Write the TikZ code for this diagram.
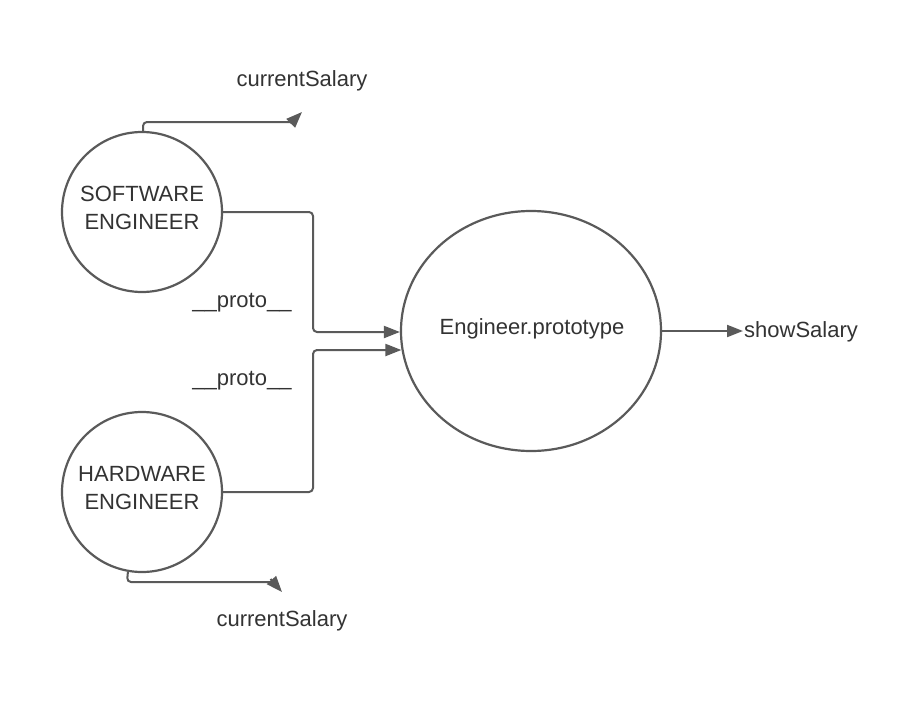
\documentclass[tikz,border=0pt]{standalone}
\usepackage{fontspec}
\setmainfont{Liberation Sans}
\usetikzlibrary{arrows.meta,shapes.geometric,calc}
\definecolor{linec}{HTML}{5A5A5A}
\definecolor{textc}{HTML}{333333}
\begin{document}
\begin{tikzpicture}[x=1pt,y=-1pt,
  every node/.style={text=textc,font=\fontsize{22}{28}\selectfont},
  circ/.style={circle,draw=linec,line width=2.2pt,minimum size=160pt,inner sep=0pt},
  ell/.style={ellipse,draw=linec,line width=2.2pt,minimum width=260pt,minimum height=240pt,inner sep=0pt},
  conn/.style={draw=linec,line width=2pt,rounded corners=4pt},
  arr/.style={draw=linec,line width=2pt,-{Triangle[length=16pt,width=12pt]},rounded corners=4pt},
  lbl/.style={inner sep=1pt}]
\useasboundingbox (0,0) rectangle (924,704);
\fill[white] (0,0) rectangle (924,704);
\node[circ] (sw) at (142,212) {};
\node[align=center] (swl) at (142,208) {SOFTWARE\\ENGINEER};
\node[circ] (hw) at (142,492) {};
\node[align=center] (hwl) at (142,488) {HARDWARE\\ENGINEER};
\node[ell] (eng) at (531,331) {};
\node at (532,329) (englbl) {Engineer.prototype};
\node[lbl,anchor=west] (sal) at (743,332) {showSalary};
\node (cs1) at (302,81) {currentSalary};
\node (cs2) at (282,621) {currentSalary};
\node (p1) at (242,303) {\_\_proto\_\_};
\node (p2) at (242,381) {\_\_proto\_\_};
\coordinate (t1a) at (290.5,123.5);
\coordinate (t1b) at (302,112);
\coordinate (t2a) at (270.5,579);
\coordinate (t2b) at (282,592);
% connectors
\draw[arr] (sw.east) -- (313,212) -- (313,332) -- (eng.west |- 0,332);
\draw[arr] (hw.east) -- (313,492) -- (313,350) -- ($(eng.west)+(1.5,19)$);
\draw[arr] (eng.east) -- (eng.east -| sal.west);
\draw[conn] ([xshift=1pt]sw.north) -- (143,122) -- (291,122);
\draw[draw=linec,line width=2pt,-{Triangle[length=16pt,width=12pt]}] (t1a) -- (t1b);
\draw[conn] (hw.260) -- (127,582) -- (271,582);
\draw[draw=linec,line width=2pt,-{Triangle[length=16pt,width=12pt]}] (t2a) -- (t2b);
\end{tikzpicture}
\end{document}
